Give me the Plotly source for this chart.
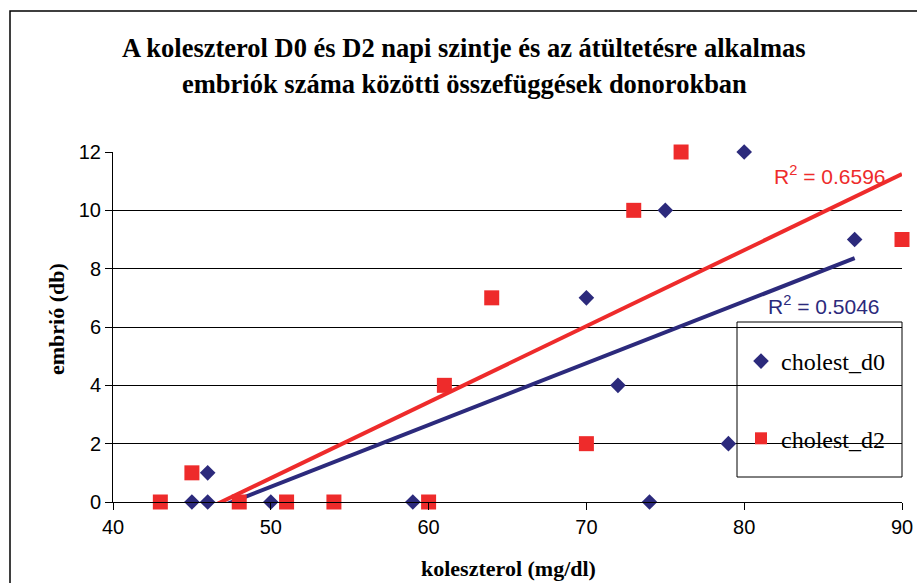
import numpy as np
import plotly.graph_objects as go

# ---- data ----
d0_x = [45, 46, 46, 50, 59, 70, 72, 74, 75, 79, 80, 87]
d0_y = [0, 0, 1, 0, 0, 7, 4, 0, 10, 2, 12, 9]
d2_x = [43, 45, 48, 51, 54, 60, 61, 64, 70, 73, 76, 90]
d2_y = [0, 1, 0, 0, 0, 0, 4, 7, 2, 10, 12, 9]
series_names = ["cholest_d0", "cholest_d2"]
r2_labels = ["R<sup>2</sup> = 0.5046", "R<sup>2</sup> = 0.6596"]
x_ticks = [40, 50, 60, 70, 80, 90]
y_ticks = [0, 2, 4, 6, 8, 10, 12]
title_lines = ["A koleszterol D0 és D2 napi szintje és az átültetésre alkalmas",
               "embriók száma közötti összefüggések donorokban"]
x_title = "koleszterol (mg/dl)"
y_title = "embrió (db)"

BLUE = "#2C2A7C"
RED = "#EE2B2B"
SERIF = "Liberation Serif, Times New Roman, serif"
SANS = "Liberation Sans, Arial, sans-serif"

W, H = 917, 583
L, R, T, B = 113, 15, 152, 81
pw, ph = W - L - R, H - T - B


def px_x(p):
    return (p - L) / pw


def px_y(p):
    return (H - B - p) / ph


def trend(xs, ys):
    k, b = np.polyfit(xs, ys, 1)
    xx = np.array([min(xs), max(xs)], dtype=float)
    return xx, k * xx + b


fig = go.Figure()

tx0, ty0 = trend(d0_x, d0_y)
tx2, ty2 = trend(d2_x, d2_y)

fig.add_trace(go.Scatter(x=tx0, y=ty0, mode="lines", line=dict(color=BLUE, width=4),
                         showlegend=False, hoverinfo="skip"))
fig.add_trace(go.Scatter(x=tx2, y=ty2, mode="lines", line=dict(color=RED, width=4),
                         showlegend=False, hoverinfo="skip"))

fig.add_trace(go.Scatter(x=d0_x, y=d0_y, mode="markers", name=series_names[0],
                         marker=dict(symbol="diamond", size=12, color=BLUE),
                         cliponaxis=False, legendgroup="a"))
fig.add_trace(go.Scatter(x=d2_x, y=d2_y, mode="markers", name=series_names[1],
                         marker=dict(symbol="square", size=15, color=RED),
                         cliponaxis=False, legendgroup="b"))

axis_font = dict(family=SANS, size=20, color="black")
fig.update_xaxes(range=[40, 90], tickvals=x_ticks, showgrid=False,
                 showline=True, linecolor="black", linewidth=1,
                 ticks="outside", ticklen=7, tickcolor="black",
                 tickfont=axis_font, zeroline=False, fixedrange=True,
                 automargin=False)
fig.update_yaxes(range=[0, 12], tickvals=y_ticks, showgrid=True,
                 gridcolor="black", gridwidth=1,
                 showline=True, linecolor="black", linewidth=1,
                 ticks="outside", ticklen=7, tickcolor="black",
                 tickfont=axis_font, zeroline=False, fixedrange=True,
                 automargin=False)

annots = []
for txt, yy in zip(title_lines, [48, 84]):
    annots.append(dict(text="<b>" + txt + "</b>", x=px_x(464), y=px_y(yy),
                       xref="paper", yref="paper", showarrow=False,
                       xanchor="center", yanchor="middle",
                       font=dict(family=SERIF, size=26.5, color="black")))
annots.append(dict(text="<b>" + x_title + "</b>", x=px_x(508), y=px_y(568),
                   xref="paper", yref="paper", showarrow=False,
                   xanchor="center", yanchor="middle",
                   font=dict(family=SERIF, size=22, color="black")))
annots.append(dict(text="<b>" + y_title + "</b>", x=px_x(56), y=px_y(319),
                   xref="paper", yref="paper", showarrow=False, textangle=-90,
                   xanchor="center", yanchor="middle",
                   font=dict(family=SERIF, size=22, color="black")))
annots.append(dict(text=r2_labels[1], x=px_x(830), y=px_y(175),
                   xref="paper", yref="paper", showarrow=False,
                   xanchor="center", yanchor="middle",
                   font=dict(family=SANS, size=21, color=RED)))
annots.append(dict(text=r2_labels[0], x=px_x(824), y=px_y(305),
                   xref="paper", yref="paper", showarrow=False,
                   xanchor="center", yanchor="middle",
                   font=dict(family=SANS, size=21, color=BLUE)))

fig.update_layout(
    width=W, height=H,
    margin=dict(l=L, r=R, t=T, b=B, autoexpand=False),
    paper_bgcolor="white", plot_bgcolor="white",
    annotations=annots,
    showlegend=True,
    legend=dict(x=px_x(741), y=px_y(339), xanchor="left", yanchor="top",
                bgcolor="rgba(0,0,0,0)", borderwidth=0,
                font=dict(family=SERIF, size=24, color="black"),
                tracegroupgap=43, traceorder="grouped", itemsizing="constant"),
    shapes=[
        dict(type="rect", xref="paper", yref="paper",
             x0=px_x(10), y0=-1, x1=2, y1=px_y(11),
             line=dict(color="black", width=1.5), layer="below"),
        dict(type="rect", xref="paper", yref="paper",
             x0=px_x(737), y0=px_y(477), x1=px_x(902), y1=px_y(322),
             fillcolor="white", line=dict(color="black", width=1), layer="between"),
    ],
)

fig.write_html("out.html")
